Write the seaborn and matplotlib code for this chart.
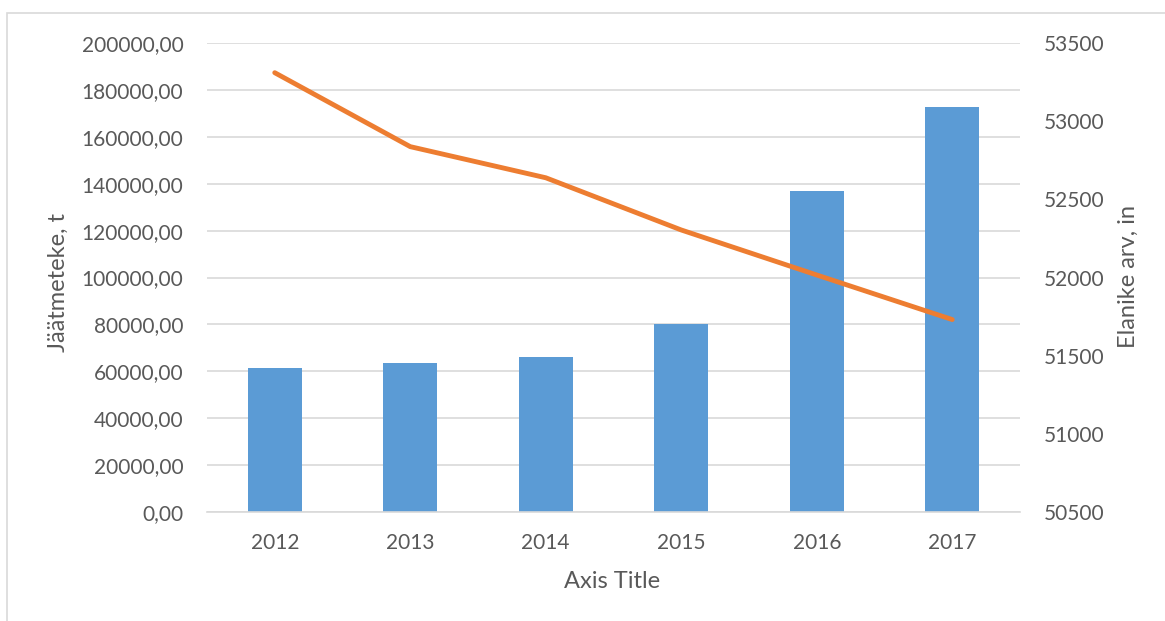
import matplotlib
matplotlib.use("Agg")
import matplotlib.pyplot as plt
import seaborn as sns
import numpy as np
import pandas as pd
from matplotlib.ticker import FuncFormatter, MultipleLocator
from matplotlib.patches import Rectangle

years = ["2012", "2013", "2014", "2015", "2016", "2017"]
waste = [61200, 63500, 66000, 80000, 137100, 172700]
population = [53310, 52837, 52638, 52304, 52016, 51731]

x_title = "Axis Title"
y_left_title = "Jäätmeteke, t"
y_right_title = "Elanike arv, in"

sns.set_theme(style="white")
plt.rcParams['font.family'] = ['Lato', 'DejaVu Sans']

TXT = "#595959"
GRID = "#D9D9D9"
BLUE = "#5B9BD5"
ORANGE = "#ED7D31"

df = pd.DataFrame({"year": years, "waste": waste, "pop": population})

fig = plt.figure(figsize=(11.65, 6.21), dpi=100)
AX_L, AX_R, AX_T, AX_B = 207, 1020, 43, 512
ax = fig.add_axes([AX_L/1165, 1 - AX_B/621, (AX_R-AX_L)/1165, (AX_B-AX_T)/621])

sns.barplot(data=df, x="year", y="waste", ax=ax, color=BLUE, width=0.4,
            saturation=1, edgecolor=BLUE, linewidth=0, zorder=2)
ax.set_ylim(0, 200000)
ax.yaxis.set_major_locator(MultipleLocator(20000))
ax.yaxis.set_major_formatter(FuncFormatter(lambda v, p: f"{v:.2f}".replace(".", ",")))
ax.set_xlim(-0.5, len(years) - 0.5)
ax.grid(axis="y", color=GRID, linewidth=1.2, zorder=0)
ax.set_axisbelow(True)
for s in ["top", "left", "right"]:
    ax.spines[s].set_visible(False)
ax.spines["bottom"].set_color(GRID)
ax.spines["bottom"].set_linewidth(1.2)
ax.set_xticks(np.arange(len(years)))
ax.set_xticklabels(years)
ax.set_xticks(np.arange(-0.5, len(years)), minor=True)
ax.tick_params(axis="x", which="major", length=0, pad=15, labelsize=15, labelcolor=TXT)
ax.tick_params(axis="x", which="minor", length=6, width=1.2, color=GRID, direction="out")
ax.tick_params(axis="y", length=0, pad=17, labelsize=15, labelcolor=TXT)

W, H = AX_R - AX_L, AX_B - AX_T
ax.set_xlabel(x_title, fontsize=17, color=TXT)
ax.xaxis.label.set_va("center")
ax.xaxis.set_label_coords((612 - AX_L) / W, (AX_B - 581) / H)
ax.set_ylabel(y_left_title, fontsize=17, color=TXT)
ax.yaxis.label.set_va("center")
ax.yaxis.set_label_coords((58 - AX_L) / W, (AX_B - 282) / H)

ax2 = ax.twinx()
sns.lineplot(x=np.arange(len(years)), y=df["pop"], ax=ax2, color=ORANGE,
             linewidth=3.5, zorder=3)
ax2.set_ylim(50500, 53500)
ax2.yaxis.set_major_locator(MultipleLocator(500))
for s in ["top", "left", "right", "bottom"]:
    ax2.spines[s].set_visible(False)
ax2.tick_params(axis="y", length=0, pad=17, labelsize=15, labelcolor=TXT)
ax2.set_ylabel(y_right_title, fontsize=17, color=TXT)
ax2.yaxis.label.set_va("center")
ax2.yaxis.set_label_coords((1128 - AX_L) / W, (AX_B - 277) / H)
ax2.set_xlim(-0.5, len(years) - 0.5)

fig.patches.append(Rectangle((7/1165, -0.1), 1.2, 1 - 13/621 + 0.1,
                             transform=fig.transFigure, fill=False,
                             edgecolor=GRID, linewidth=1.2))

fig.savefig("out.png", dpi=100)
